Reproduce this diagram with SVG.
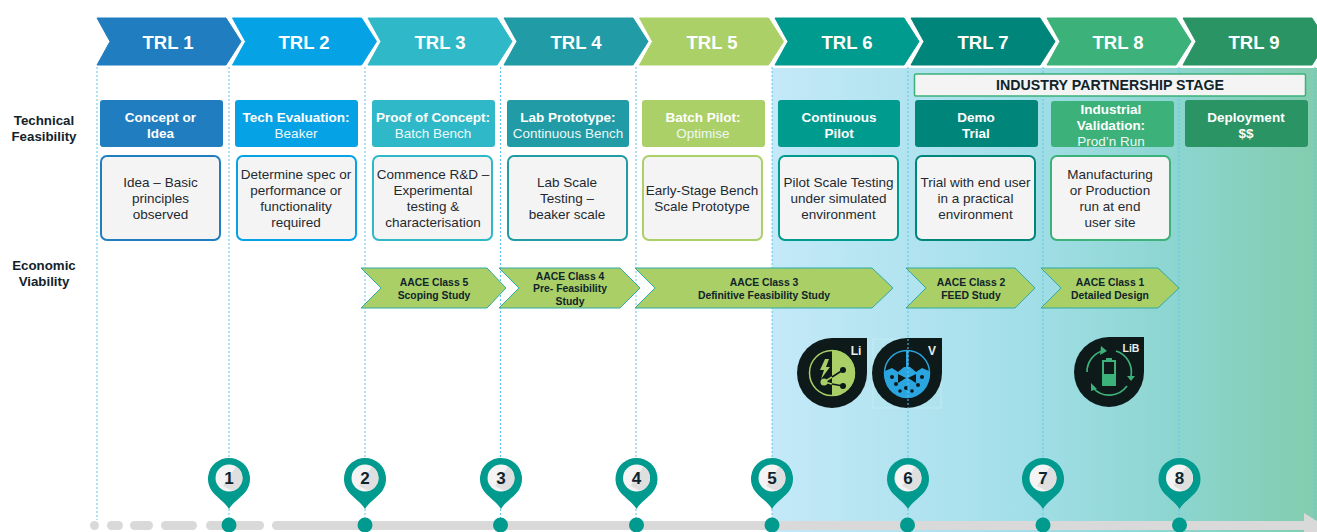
<svg xmlns="http://www.w3.org/2000/svg" width="1317" height="532" viewBox="0 0 1317 532">
<style>
text{font-family:"Liberation Sans",Arial,sans-serif;text-anchor:middle}
.t{font-size:18.500px;font-weight:700;fill:#fff}
.h{font-size:13.500px;font-weight:700;fill:#fff}
.s{font-size:13.500px;fill:#eef8f8}
.d{font-size:13.500px;fill:#1e2a30}
.l{font-size:13.300px;font-weight:700;fill:#14232a}
.a{font-size:10.400px;font-weight:700;fill:#10242a}
.n{font-size:17px;font-weight:700;fill:#10242e}
.grid{stroke:#5fc5ef;stroke-width:1;stroke-dasharray:2 2;fill:none}
.box{fill:#f5f4f5;stroke-width:2}
.ar{fill:#a9cf66;stroke:#2fa9a6;stroke-width:1}
.ic{fill:#0e1a1a}
.pin{fill:#009a8e}
.dot{fill:#009a8e}
.bar{fill:#d9d9d9}
</style>
<defs>
<linearGradient id="bg" x1="0" x2="1" y1="0" y2="0">
<stop offset="0" stop-color="#c4e9f8"/><stop offset=".45" stop-color="#a3dfe9"/><stop offset=".75" stop-color="#8bd5cf"/><stop offset="1" stop-color="#82ccae"/>
</linearGradient>
<path id="chev" d="M0 0H129L144 23.500L129 47H0L13 23.500Z" stroke-linejoin="round" stroke-width="1"/>
<g id="pinShape">
<path class="pin" d="M-17.500 12.500A21 21 0 1 1 17.500 12.500C12 20 4 24 0 31C-4 24 -12 20 -17.500 12.500Z"/>
<circle r="13.500" fill="#f4f4f5"/>
<path d="M-6 8L7 -11.500A13.500 13.500 0 0 1 8 10.900L4 12.900Z" fill="#dfdfdf"/>
</g>
<path id="icShape" class="ic" d="M0 -35H35V0A35 35 0 1 1 0 -35Z"/>
</defs>
<rect id="background" x="772" y="68" width="545" height="464" fill="url(#bg)"/>

<g id="timeline-bar">
<rect class="bar" x="90" y="521" width="9" height="9" rx="4.500"/>
<rect class="bar" x="107" y="521" width="16" height="9" rx="4.500"/>
<rect class="bar" x="130" y="521" width="23" height="9" rx="4.500"/>
<rect class="bar" x="161" y="521" width="36" height="9" rx="4.500"/>
<rect class="bar" x="206" y="521" width="58" height="9" rx="4.500"/>
<rect class="bar" x="272" y="521" width="1040" height="9" rx="4.500"/>
<path class="bar" d="M1304 513L1317 521V532H1304Z"/>
</g>

<g id="icon-li">
<use href="#icShape" x="832" y="373"/>
<path d="M832 350A23 23 0 0 1 832 396Z" fill="#a9cf66"/>
<circle cx="832" cy="373" r="22.500" fill="none" stroke="#a9cf66" stroke-width="1.500"/>
<path d="M825 359L820 370H824L821 379L830 367H826L829 359Z" fill="#a9cf66"/>
<path d="M824 382L832 377M824 382L832 384" stroke="#a9cf66" stroke-width="1.500" fill="none"/>
<path d="M832 377L843 370M832 384L843 386" stroke="#0e1a1a" stroke-width="1.500" fill="none"/>
<circle cx="824" cy="382" r="3.500" fill="#a9cf66"/>
<circle cx="843" cy="370" r="3" fill="#0e1a1a"/>
<circle cx="843" cy="386" r="3" fill="#0e1a1a"/>
<text x="856" y="355" font-size="12" font-weight="700" fill="#e8eeee">Li</text>
</g>
<g id="icon-v">
<rect x="873" y="339" width="68" height="69" fill="none" stroke="#c8edf3" stroke-width=".8"/>
<use href="#icShape" x="907" y="373"/>
<circle cx="907" cy="373" r="22.500" fill="none" stroke="#2aa5e0" stroke-width="1.500"/>
<path d="M885 371L892 368L898 372L904 367L910 367L916 372L922 368L929 371A22.500 22.500 0 1 1 885 371Z" fill="#2aa5e0"/>
<rect x="906" y="351" width="2.500" height="30" fill="#2aa5e0"/>
<path d="M898 374L906 378L898 383ZM916 374L908 378L916 383Z" fill="#0e1a1a"/>
<g fill="#0e1a1a"><circle cx="892" cy="377" r="2"/><circle cx="896" cy="384" r="2"/><circle cx="922" cy="377" r="2"/><circle cx="918" cy="385" r="2"/><circle cx="906" cy="388" r="2"/><circle cx="912" cy="391" r="1.800"/><circle cx="900" cy="391" r="1.800"/></g>
<text x="932" y="355" font-size="12" font-weight="700" fill="#e8eeee">V</text>
</g>
<g id="icon-lib">
<use href="#icShape" x="1109" y="372"/>
<g fill="none" stroke="#3cb179" stroke-width="1.700">
<path d="M1087 372A22 22 0 0 1 1102 351"/>
<path d="M1116 351A22 22 0 0 1 1131 376"/>
<path d="M1127 386A22 22 0 0 1 1093 388"/>
</g>
<path d="M1101 346L1107 351L1100 355ZM1127 376L1135 376L1131 381ZM1091 383L1097 389L1091 391Z" fill="#3cb179"/>
<path d="M1106 358H1112V360H1116V386H1102V360H1106Z" fill="#3cb179"/>
<rect x="1104" y="362" width="10" height="12" fill="#0e1a1a"/>
<text x="1131" y="352" font-size="10.500" font-weight="700" fill="#e8eeee">LiB</text>
</g>

<g id="connectors">
<path class="grid" d="M97 67V520M229 67V460M229 509V518M365 67V460M365 509V518M500.500 67V460M500.500 509V518M636 67V460M636 509V518M772 67V460M772 509V518M908 67V460M908 509V518M1043 67V460M1043 509V518M1179 67V460M1179 509V518M1315 67V520"/>
</g>

<g id="label-tech"><text class="l" x="44" y="125">Technical</text><text class="l" x="44" y="141">Feasibility</text></g>
<g id="label-econ"><text class="l" x="44" y="270">Economic</text><text class="l" x="44" y="286">Viability</text></g>

<g id="trl1"><use href="#chev" x="97" y="18" fill="#1f7dc0" stroke="#1f7dc0"/><text class="t" x="168" y="49">TRL 1</text></g>
<g id="trl2"><use href="#chev" x="232.500" y="18" fill="#05a3e5" stroke="#05a3e5"/><text class="t" x="304" y="49">TRL 2</text></g>
<g id="trl3"><use href="#chev" x="368" y="18" fill="#2eb8c8" stroke="#2eb8c8"/><text class="t" x="440" y="49">TRL 3</text></g>
<g id="trl4"><use href="#chev" x="504" y="18" fill="#219ba5" stroke="#219ba5"/><text class="t" x="576" y="49">TRL 4</text></g>
<g id="trl5"><use href="#chev" x="639.500" y="18" fill="#abd067" stroke="#abd067"/><text class="t" x="712" y="49">TRL 5</text></g>
<g id="trl6"><use href="#chev" x="775" y="18" fill="#009b8f" stroke="#009b8f"/><text class="t" x="847" y="49">TRL 6</text></g>
<g id="trl7"><use href="#chev" x="911" y="18" fill="#00857a" stroke="#00857a"/><text class="t" x="983" y="49">TRL 7</text></g>
<g id="trl8"><use href="#chev" x="1047" y="18" fill="#3cb179" stroke="#3cb179"/><text class="t" x="1118" y="49">TRL 8</text></g>
<g id="trl9"><use href="#chev" x="1183" y="18" fill="#2a9464" stroke="#2a9464"/><text class="t" x="1254" y="49">TRL 9</text></g>

<g id="industry-stage"><rect x="914.500" y="74" width="391" height="22" rx="1.500" fill="#f5f4f5" stroke="#3cb179" stroke-width="1.500"/><text x="1110" y="90" font-size="14.200" font-weight="700" fill="#10242a">INDUSTRY PARTNERSHIP STAGE</text></g>

<g id="h1"><rect x="100" y="100" width="123" height="47" rx="3" fill="#1f7dc0"/><text class="h" x="160.500" y="122">Concept or</text><text class="h" x="160.500" y="138">Idea</text></g>
<g id="h2"><rect x="235" y="100" width="123" height="47" rx="3" fill="#05a3e5"/><text class="h" x="296" y="122">Tech Evaluation:</text><text class="s" x="296" y="138">Beaker</text></g>
<g id="h3"><rect x="372" y="100" width="123" height="47" rx="3" fill="#2eb8c8"/><text class="h" x="433" y="122">Proof of Concept:</text><text class="s" x="433" y="138">Batch Bench</text></g>
<g id="h4"><rect x="507" y="100" width="122" height="47" rx="3" fill="#219ba5"/><text class="h" x="568" y="122">Lab Prototype:</text><text class="s" x="568" y="138">Continuous Bench</text></g>
<g id="h5"><rect x="642" y="100" width="123" height="47" rx="3" fill="#abd067"/><text class="h" x="703" y="122">Batch Pilot:</text><text class="s" x="703" y="138">Optimise</text></g>
<g id="h6"><rect x="778" y="100" width="122" height="47" rx="3" fill="#009b8f"/><text class="h" x="839" y="122">Continuous</text><text class="h" x="839" y="138">Pilot</text></g>
<g id="h7"><rect x="915" y="100" width="123" height="47" rx="3" fill="#00857a"/><text class="h" x="976" y="122">Demo</text><text class="h" x="976" y="138">Trial</text></g>
<g id="h8"><rect x="1051" y="101" width="123" height="46" rx="3" fill="#3cb179"/><text class="h" x="1111" y="114">Industrial</text><text class="h" x="1111" y="130">Validation:</text><text class="s" x="1111" y="146">Prod’n Run</text></g>
<g id="h9"><rect x="1185" y="100" width="123" height="47" rx="3" fill="#2a9464"/><text class="h" x="1246" y="122">Deployment</text><text class="h" x="1246" y="138">$$</text></g>

<g id="d1"><rect class="box" x="101" y="156" width="119" height="84" rx="6" stroke="#1f7dc0"/><text class="d" x="160.500" y="187">Idea – Basic</text><text class="d" x="160.500" y="203">principles</text><text class="d" x="160.500" y="219">observed</text></g>
<g id="d2"><rect class="box" x="237" y="156" width="119" height="84" rx="6" stroke="#05a3e5"/><text class="d" x="296" y="179">Determine spec or</text><text class="d" x="296" y="195">performance or</text><text class="d" x="296" y="211">functionality</text><text class="d" x="296" y="227">required</text></g>
<g id="d3"><rect class="box" x="373" y="156" width="119" height="84" rx="6" stroke="#2eb8c8"/><text class="d" x="433" y="179">Commence R&amp;D –</text><text class="d" x="433" y="195">Experimental</text><text class="d" x="433" y="211">testing &amp;</text><text class="d" x="433" y="227">characterisation</text></g>
<g id="d4"><rect class="box" x="508" y="156" width="119" height="84" rx="6" stroke="#219ba5"/><text class="d" x="567" y="187">Lab Scale</text><text class="d" x="567" y="203">Testing –</text><text class="d" x="567" y="219">beaker scale</text></g>
<g id="d5"><rect class="box" x="643" y="156" width="119" height="84" rx="6" stroke="#abd067"/><text class="d" x="702" y="195">Early-Stage Bench</text><text class="d" x="702" y="211">Scale Prototype</text></g>
<g id="d6"><rect class="box" x="779" y="156" width="119" height="84" rx="6" stroke="#009b8f"/><text class="d" x="838.500" y="187">Pilot Scale Testing</text><text class="d" x="838.500" y="203">under simulated</text><text class="d" x="838.500" y="219">environment</text></g>
<g id="d7"><rect class="box" x="916" y="156" width="119" height="84" rx="6" stroke="#00857a"/><text class="d" x="975.500" y="187">Trial with end user</text><text class="d" x="975.500" y="203">in a practical</text><text class="d" x="975.500" y="219">environment</text></g>
<g id="d8"><rect class="box" x="1051" y="156" width="119" height="84" rx="6" stroke="#3cb179"/><text class="d" x="1110" y="179">Manufacturing</text><text class="d" x="1110" y="195">or Production</text><text class="d" x="1110" y="211">run at end</text><text class="d" x="1110" y="227">user site</text></g>

<g id="aace5"><path class="ar" d="M361 268H487L506 288L487 308H361L381 288Z"/><text class="a" x="434" y="286">AACE Class 5</text><text class="a" x="434" y="298.500">Scoping Study</text></g>
<g id="aace4"><path class="ar" d="M499 268H620L640 288L620 308H499L519 288Z"/><text class="a" x="570" y="279.500">AACE Class 4</text><text class="a" x="570" y="292">Pre- Feasibility</text><text class="a" x="570" y="305">Study</text></g>
<g id="aace3"><path class="ar" d="M635 268H872L893 288L872 308H635L655 288Z"/><text class="a" x="764" y="286">AACE Class 3</text><text class="a" x="764" y="298.500">Definitive Feasibility Study</text></g>
<g id="aace2"><path class="ar" d="M906 268H1015L1035 288L1015 308H906L926 288Z"/><text class="a" x="971" y="286">AACE Class 2</text><text class="a" x="971" y="298.500">FEED Study</text></g>
<g id="aace1"><path class="ar" d="M1041 268H1158L1179 288L1158 308H1041L1061 288Z"/><text class="a" x="1110" y="286">AACE Class 1</text><text class="a" x="1110" y="298.500">Detailed Design</text></g>

<g id="m1"><circle class="dot" cx="229" cy="525" r="7.500"/><use href="#pinShape" x="229" y="478"/><text class="n" x="229" y="483.500">1</text></g>
<g id="m2"><circle class="dot" cx="365" cy="525" r="7.500"/><use href="#pinShape" x="365" y="478"/><text class="n" x="365" y="483.500">2</text></g>
<g id="m3"><circle class="dot" cx="500.500" cy="525" r="7.500"/><use href="#pinShape" x="501" y="478"/><text class="n" x="501" y="483.500">3</text></g>
<g id="m4"><circle class="dot" cx="636.500" cy="525" r="7.500"/><use href="#pinShape" x="636.500" y="478"/><text class="n" x="636.500" y="483.500">4</text></g>
<g id="m5"><circle class="dot" cx="772" cy="525" r="7.500"/><use href="#pinShape" x="772" y="478"/><text class="n" x="772" y="483.500">5</text></g>
<g id="m6"><circle class="dot" cx="907.500" cy="525" r="7.500"/><use href="#pinShape" x="908" y="478"/><text class="n" x="908" y="483.500">6</text></g>
<g id="m7"><circle class="dot" cx="1043" cy="525" r="7.500"/><use href="#pinShape" x="1043" y="478"/><text class="n" x="1043" y="483.500">7</text></g>
<g id="m8"><circle class="dot" cx="1179.500" cy="525" r="7.500"/><use href="#pinShape" x="1179.500" y="478"/><text class="n" x="1179.500" y="483.500">8</text></g>
</svg>
